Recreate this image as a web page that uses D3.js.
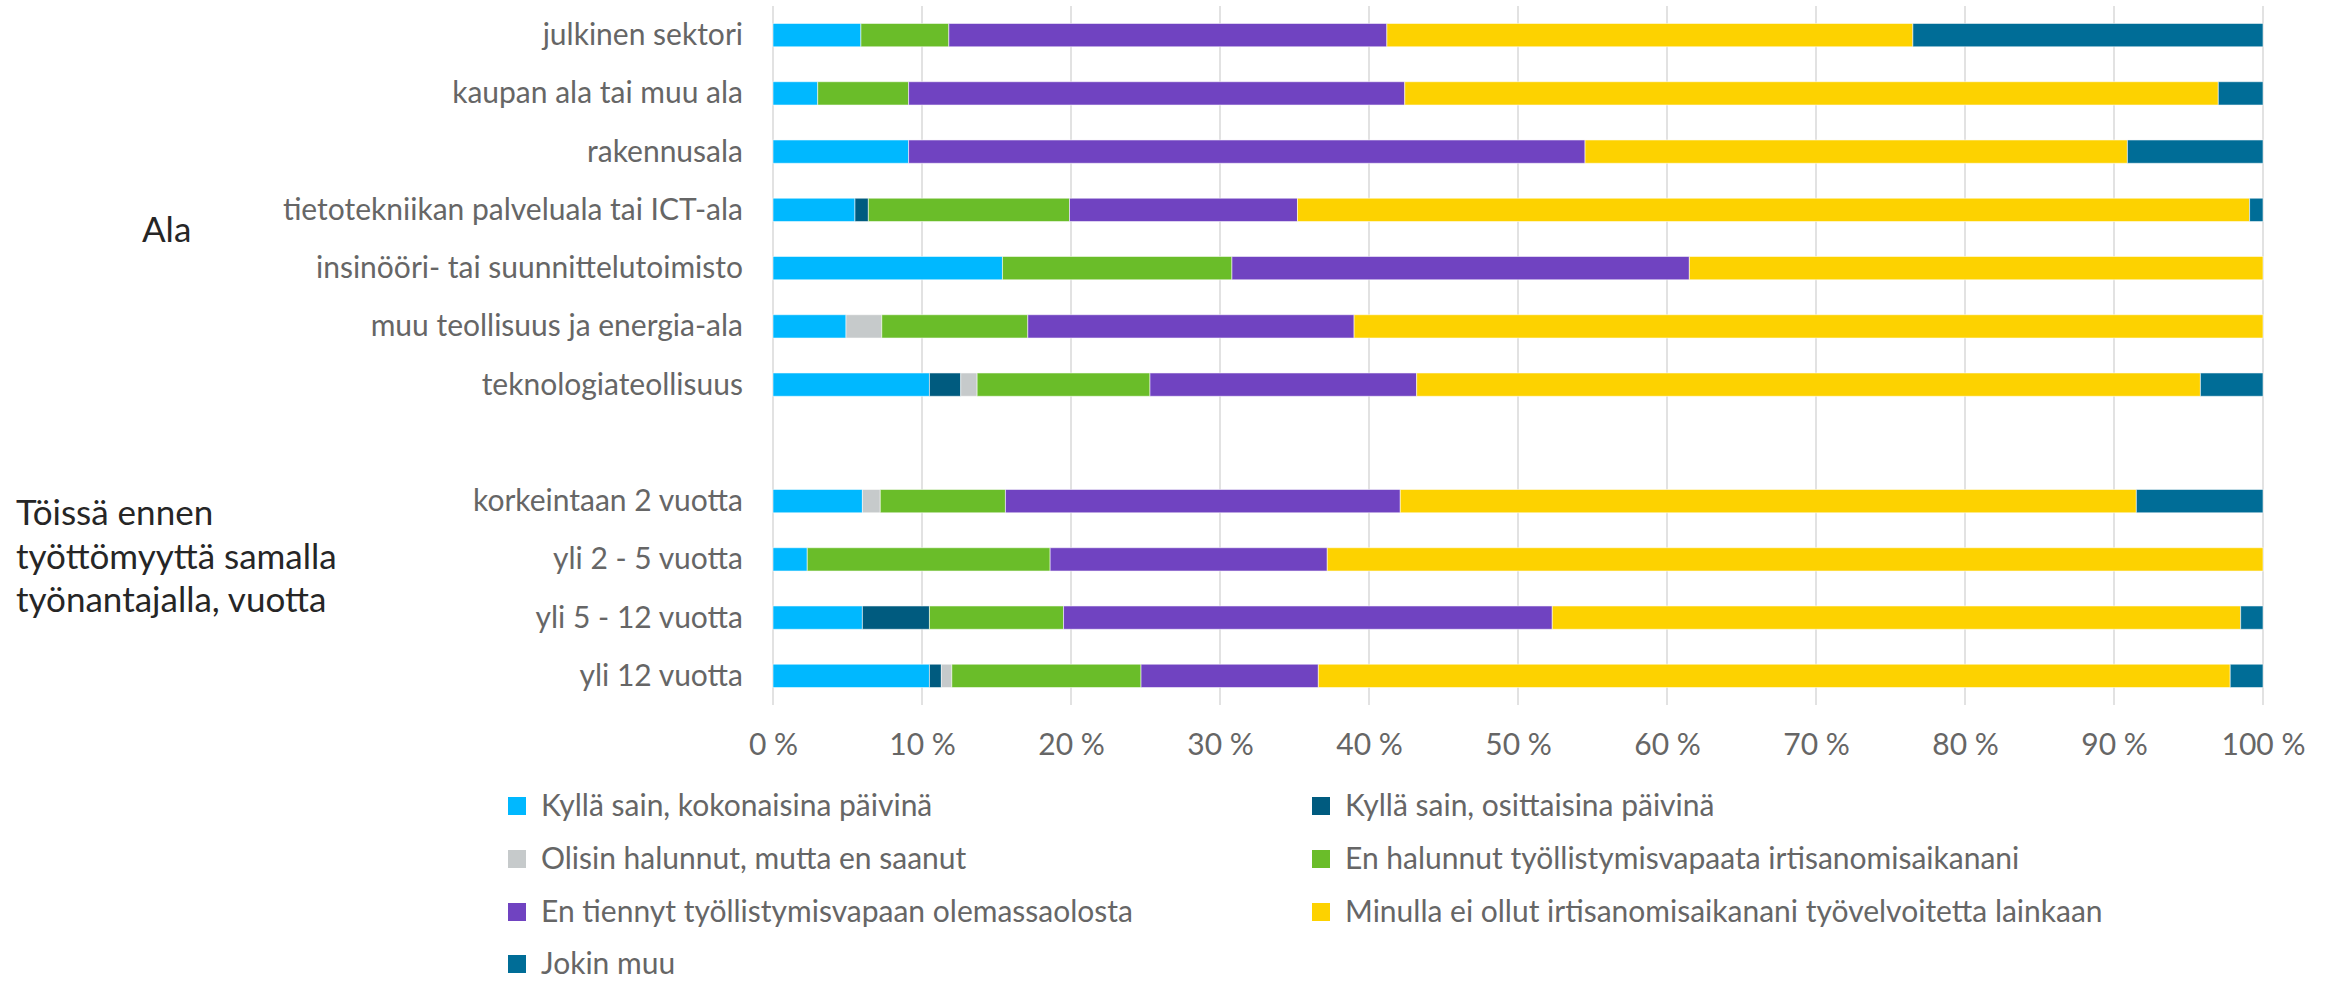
<!DOCTYPE html>
<html lang="fi">
<head>
<meta charset="utf-8">
<title>Työllistymisvapaa irtisanomisaikana</title>
<script src="https://cdn.jsdelivr.net/npm/d3@7"></script>
<style>
  html, body { margin: 0; padding: 0; background: #ffffff; }
  svg { display: block; }
  text { font-family: Lato, "Open Sans", sans-serif; }
</style>
</head>
<body>
<svg id="chart" width="2328" height="984"></svg>
<script>
// Categories: industry ("Ala") and tenure with the same employer
const alaCategories = [
  "julkinen sektori",
  "kaupan ala tai muu ala",
  "rakennusala",
  "tietotekniikan palveluala tai ICT-ala",
  "insinööri- tai suunnittelutoimisto",
  "muu teollisuus ja energia-ala",
  "teknologiateollisuus"
];
const tenureCategories = [
  "korkeintaan 2 vuotta",
  "yli 2 - 5 vuotta",
  "yli 5 - 12 vuotta",
  "yli 12 vuotta"
];
const groupLabels = ["Ala", "Töissä ennen työttömyyttä samalla työnantajalla, vuotta"];

// Series names (legend order)
const seriesNames = [
  "Kyllä sain, kokonaisina päivinä",
  "Kyllä sain, osittaisina päivinä",
  "Olisin halunnut, mutta en saanut",
  "En halunnut työllistymisvapaata irtisanomisaikanani",
  "En tiennyt työllistymisvapaan olemassaolosta",
  "Minulla ei ollut irtisanomisaikanani työvelvoitetta lainkaan",
  "Jokin muu"
];
const seriesColors = ["#00b8ff", "#005b7f", "#c6cacb", "#6abd29", "#7043c1", "#fdd200", "#006d97"];

// Shares in percent, one value per category (industries first, then tenure)
const fullDays      = [5.9, 3.0, 9.1, 5.5, 15.4, 4.9, 10.5,   6.0, 2.3, 6.0, 10.5];
const partialDays   = [0,   0,   0,   0.9, 0,    0,   2.1,    0,   0,   4.5, 0.8];
const wantedDenied  = [0,   0,   0,   0,   0,    2.4, 1.1,    1.2, 0,   0,   0.7];
const notWanted     = [5.9, 6.1, 0,   13.5, 15.4, 9.8, 11.6,  8.4, 16.3, 9.0, 12.7];
const notAware      = [29.4, 33.3, 45.4, 15.3, 30.7, 21.9, 17.9,  26.5, 18.6, 32.8, 11.9];
const noWorkDuty    = [35.3, 54.6, 36.4, 63.9, 38.5, 61.0, 52.6,  49.4, 62.8, 46.2, 61.2];
const somethingElse = [23.5, 3.0, 9.1, 0.9, 0,    0,   4.2,    8.5, 0,   1.5, 2.2];

const xTicks = [0, 10, 20, 30, 40, 50, 60, 70, 80, 90, 100];

// ---- build table ----
const seriesValues = [fullDays, partialDays, wantedDenied, notWanted, notAware, noWorkDuty, somethingElse];
const allCategories = alaCategories.concat(tenureCategories);
const rows = allCategories.map((c, i) => {
  const r = { category: c };
  seriesNames.forEach((s, k) => { r[s] = seriesValues[k][i]; });
  return r;
});

const spacer = "\u2002";  // empty slot between the two groups
const yDomain = alaCategories.concat([spacer], tenureCategories);

const svg = d3.select("#chart");

const x = d3.scaleLinear().domain([0, 100]).range([773, 2263]);
const y = d3.scaleBand().domain(yDomain).range([6, 705]).paddingInner(0.6).paddingOuter(0.3);
const color = d3.scaleOrdinal().domain(seriesNames).range(seriesColors);

// vertical gridlines
svg.append("g")
  .selectAll("line")
  .data(xTicks)
  .join("line")
  .attr("x1", d => x(d)).attr("x2", d => x(d))
  .attr("y1", 6).attr("y2", 705)
  .attr("stroke", "#d9d9d9")
  .attr("stroke-width", 1.5);

// x-axis labels
const xAxis = d3.axisBottom(x).tickValues(xTicks).tickSize(0).tickPadding(0)
  .tickFormat(d => d + " %");
svg.append("g")
  .attr("transform", "translate(0,731)")
  .call(xAxis)
  .call(g => g.select(".domain").remove())
  .call(g => g.selectAll("text")
    .attr("dy", null)
    .attr("y", 24)
    .attr("fill", "#666666")
    .attr("font-size", 30)
    .attr("font-family", "Lato, sans-serif"));

// stacked bars
const stack = d3.stack().keys(seriesNames);
const stacked = stack(rows);

svg.append("g")
  .selectAll("g")
  .data(stacked)
  .join("g")
  .attr("fill", d => color(d.key))
  .selectAll("rect")
  .data(d => d.filter(p => p[1] - p[0] > 0))
  .join("rect")
  .attr("x", p => x(p[0]))
  .attr("width", p => x(p[1]) - x(p[0]))
  .attr("y", p => y(p.data.category))
  .attr("height", y.bandwidth())
  .attr("stroke", "rgba(255,255,255,0.55)")
  .attr("stroke-width", 1);

// category labels
svg.append("g")
  .selectAll("text")
  .data(allCategories)
  .join("text")
  .attr("x", x(0) - 30)
  .attr("y", d => y(d) + y.bandwidth() / 2 + 10)
  .attr("text-anchor", "end")
  .attr("fill", "#666666")
  .attr("font-size", 30)
  .text(d => d);

// group labels
svg.append("text")
  .attr("x", 142)
  .attr("y", 242)
  .attr("fill", "#262626")
  .attr("font-size", 35)
  .text(groupLabels[0]);

const tenureLines = ["Töissä ennen", "työttömyyttä samalla", "työnantajalla, vuotta"];
svg.append("text")
  .attr("x", 16)
  .attr("y", 525)
  .attr("fill", "#262626")
  .attr("font-size", 35)
  .selectAll("tspan")
  .data(tenureLines)
  .join("tspan")
  .attr("x", 16)
  .attr("dy", (d, i) => i === 0 ? 0 : 43.5)
  .text(d => d);

// legend, two columns
const legendColX = [508, 1312];
const legendRowY = [797, 850, 903, 955];
const legend = svg.append("g")
  .selectAll("g")
  .data(seriesNames)
  .join("g")
  .attr("transform", (d, i) => `translate(${legendColX[i % 2]},${legendRowY[Math.floor(i / 2)]})`);
legend.append("rect")
  .attr("width", 18).attr("height", 18)
  .attr("fill", d => color(d));
legend.append("text")
  .attr("x", 33)
  .attr("y", 19)
  .attr("fill", "#666666")
  .attr("font-size", 30)
  .text(d => d);
</script>
</body>
</html>
